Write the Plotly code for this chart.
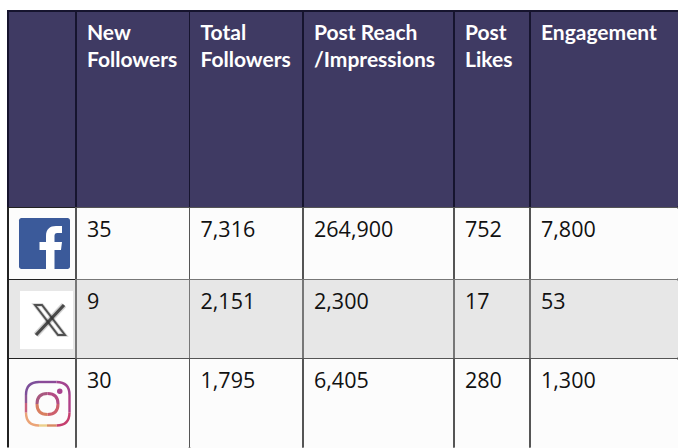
import plotly.graph_objects as go

headers = ["", "New<br>Followers", "Total<br>Followers", "Post Reach<br>/Impressions", "Post<br>Likes", "Engagement<br> "]
platforms = ["", "", ""]
new_followers = ["35", "9", "30"]
total_followers = ["7,316", "2,151", "1,795"]
post_reach = ["264,900", "2,300", "6,405"]
post_likes = ["752", "17", "280"]
engagement = ["7,800", "53", "1,300"]

W, H = 678, 448
col_edges = [8, 76, 189.5, 303, 454, 530, 678]
row_edges = [11, 207.5, 279.5, 358.5, 448]
row_fills = ["#fcfcfc", "#e7e7e7", "#fcfcfc"]
row_lines = ["#555555", "#777777", "#555555"]
HEADER = "#3f3a63"
CLEAR = "rgba(0,0,0,0)"
widths = [col_edges[i + 1] - col_edges[i] for i in range(len(col_edges) - 1)]
TEXT_DX = 3
HEAD_DY = 0
CELL_DY = 5


def dom(top, bottom, dx=0):
    return dict(x=[(col_edges[0] + dx) / W, 1], y=[1 - bottom / H, 1 - top / H])


text_widths = widths[:-1] + [widths[-1] - TEXT_DX]
blank = [[""] for _ in headers]
no_head = dict(values=blank, height=0, line_width=0, fill_color=CLEAR)

fig = go.Figure()
fig.add_trace(go.Table(
    domain=dom(row_edges[0], row_edges[1]), columnwidth=widths,
    header=dict(values=blank, height=row_edges[1] - row_edges[0], fill_color=HEADER,
                line=dict(color="#16142e", width=1.5)),
    cells=dict(values=[[] for _ in headers]),
))
fig.add_trace(go.Table(
    domain=dom(row_edges[0] + HEAD_DY, row_edges[1], TEXT_DX), columnwidth=text_widths,
    header=dict(values=[[h] for h in headers], height=row_edges[1] - row_edges[0] - HEAD_DY,
                fill_color=CLEAR, line_width=0, align="left",
                font=dict(family="Lato", size=21, color="#ffffff"),
                prefix=["" if not h else "<b>" for h in headers],
                suffix=["" if not h else "</b>" for h in headers]),
    cells=dict(values=[[] for _ in headers]),
))
columns = [platforms, new_followers, total_followers, post_reach, post_likes, engagement]
for r in range(3):
    top, bottom = row_edges[r + 1], row_edges[r + 2]
    fig.add_trace(go.Table(
        domain=dom(top, bottom), columnwidth=widths, header=no_head,
        cells=dict(values=blank, height=bottom - top, fill_color=row_fills[r],
                   line=dict(color=[["#222222"]] + [[row_lines[r]]] * 5, width=1.5)),
    ))
    fig.add_trace(go.Table(
        domain=dom(top + CELL_DY, bottom, TEXT_DX), columnwidth=text_widths, header=no_head,
        cells=dict(values=[[c[r]] for c in columns], height=bottom - top - CELL_DY,
                   fill_color=CLEAR, line_width=0, align="left",
                   font=dict(family="Open Sans", size=21.5, color="#111111")),
    ))


def px(x, y):
    return f"{x / W:.5f},{1 - y / H:.5f}"


def path(points, close=True):
    return "M" + " L".join(px(x, y) for x, y in points) + (" Z" if close else "")


def rrect(x0, y0, x1, y1, r):
    k = r * 0.45
    return (f"M{px(x0 + r, y0)} L{px(x1 - r, y0)} C{px(x1 - k, y0)} {px(x1, y0 + k)} {px(x1, y0 + r)} "
            f"L{px(x1, y1 - r)} C{px(x1, y1 - k)} {px(x1 - k, y1)} {px(x1 - r, y1)} "
            f"L{px(x0 + r, y1)} C{px(x0 + k, y1)} {px(x0, y1 - k)} {px(x0, y1 - r)} "
            f"L{px(x0, y0 + r)} C{px(x0, y0 + k)} {px(x0 + k, y0)} {px(x0 + r, y0)} Z")


shapes = []


def add(d, fill=CLEAR, line=None, w=0, opacity=1):
    shapes.append(dict(type="path", xref="paper", yref="paper", path=d, fillcolor=fill,
                       line=dict(color=line or CLEAR, width=w), layer="above", opacity=opacity))


# hide the right and bottom borders: the reference table runs off the picture
for top, bottom, colour in zip(row_edges[:-1], row_edges[1:], [HEADER] + row_fills):
    add(path([(675.5, top + 1), (678, top + 1), (678, bottom - 1), (675.5, bottom - 1)]), colour)
for x0, x1 in zip(col_edges[:-1], col_edges[1:]):
    add(path([(x0 + 1, 446), (x1 - 1 if x1 < W else W, 446), (x1 - 1 if x1 < W else W, 448), (x0 + 1, 448)]),
        row_fills[-1])

# Facebook
add(rrect(19, 218, 70, 269, 2.5), "#3b5a9a")
add(f"M{px(46, 269)} L{px(46, 250)} L{px(39.5, 250)} L{px(39.5, 242)} L{px(46, 242)} L{px(46, 236)} "
    f"C{px(46, 229)} {px(50, 226)} {px(56, 226)} L{px(62, 226)} L{px(62, 233)} L{px(58, 233)} "
    f"C{px(55, 233)} {px(54.5, 234)} {px(54.5, 237)} L{px(54.5, 242)} L{px(62, 242)} L{px(61, 250)} "
    f"L{px(54.5, 250)} L{px(54.5, 269)} Z", "#ffffff")

# X
add(path([(20, 291), (73, 291), (73, 349), (20, 349)]), "#ffffff")
for width, op in [(6, 0.22), (3.2, 0.85)]:
    add(path([(35, 305), (42, 305), (65, 335), (58, 335)]), CLEAR, "#3a3a3a", width * 0.6, op)
    add(path([(64, 305), (36, 335)], False), CLEAR, "#333333", width, op)


def corner(x0, y0, cx, cy, x1, y1):
    return f"M{px(x0, y0)} Q{px(cx, cy)} {px(x1, y1)}"


# Instagram: outline split into coloured corner and edge runs
L, T, R, B, C = 26, 382, 69.5, 425.5, 13
add(corner(L, T + C, L, T, L + C, T), line="#7d4f9a", w=2.4)
add(path([(L + C, T), (R - C, T)], False), line="#8a4a98", w=2.4)
add(corner(R - C, T, R, T, R, T + C), line="#a3448f", w=2.4)
add(path([(R, T + C), (R, B - C)], False), line="#b04088", w=2.4)
add(corner(R, B - C, R, B, R - C, B), line="#c53f6e", w=2.4)
add(path([(R - C, B), (L + C + 8, B)], False), line="#d98a62", w=2.4)
add(path([(L + C + 8, B), (L + C, B)], False), line="#ecd08c", w=2.4)
add(corner(L + C, B, L, B, L, B - C), line="#eba477", w=2.4)
add(path([(L, B - C), (L, T + C + 8)], False), line="#c9607c", w=2.4)
add(path([(L, T + C + 8), (L, T + C)], False), line="#8f5794", w=2.4)
# ring
RC = (47.5, 404)
RR = 10.5
add(corner(RC[0] - RR, RC[1], RC[0] - RR, RC[1] - RR, RC[0], RC[1] - RR), line="#a8587f", w=3)
add(corner(RC[0], RC[1] - RR, RC[0] + RR, RC[1] - RR, RC[0] + RR, RC[1]), line="#b34b84", w=3)
add(corner(RC[0] + RR, RC[1], RC[0] + RR, RC[1] + RR, RC[0], RC[1] + RR), line="#cd5f6c", w=3)
add(corner(RC[0], RC[1] + RR, RC[0] - RR, RC[1] + RR, RC[0] - RR, RC[1]), line="#d97f60", w=3)
shapes.append(dict(type="circle", xref="paper", yref="paper", x0=57 / W, x1=62.5 / W,
                   y0=1 - 394 / H, y1=1 - 388.5 / H, fillcolor="#a8428f",
                   line=dict(width=0), layer="above"))

fig.update_layout(width=W, height=H, margin=dict(l=0, r=0, t=0, b=0),
                  paper_bgcolor="#ffffff", shapes=shapes, showlegend=False)
fig.write_html("out.html", config=dict(displayModeBar=False),
               post_script="document.body.style.margin='0';document.documentElement.style.overflow='hidden';")
